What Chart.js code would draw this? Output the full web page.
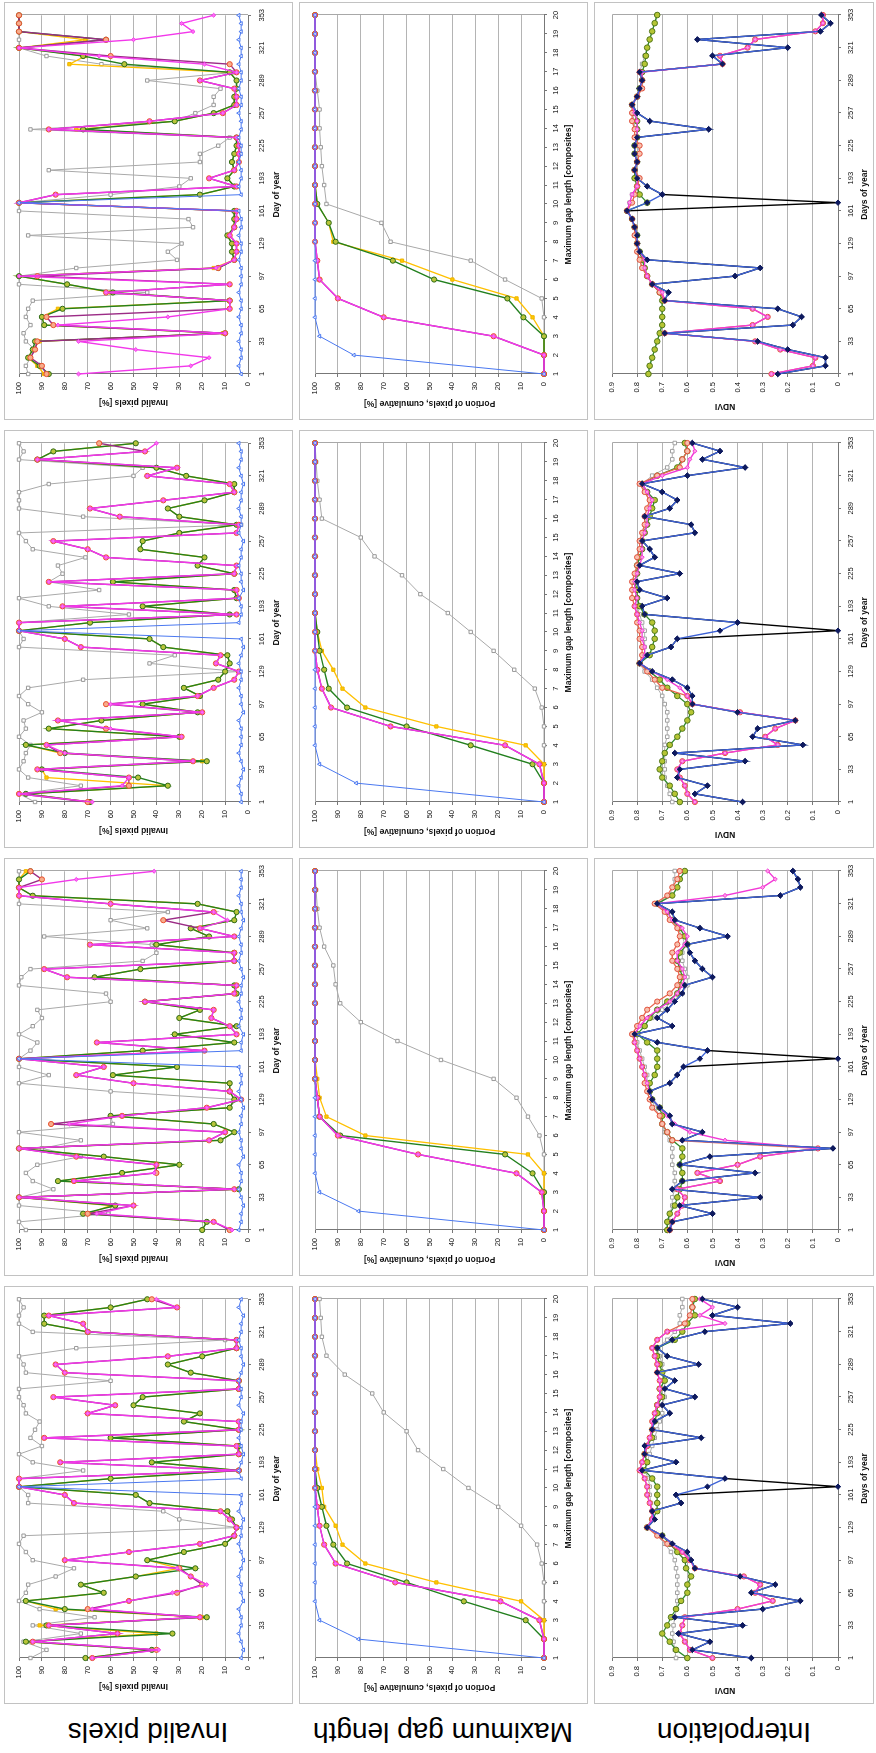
<!DOCTYPE html>
<html>
<head>
<meta charset="utf-8">
<script src="https://cdn.jsdelivr.net/npm/chart.js"></script>
<style>
html, body { margin:0; padding:0; background:#fff; width:876px; height:1753px; overflow:hidden; }
#fig { position:absolute; left:0; top:0; width:1753px; height:876px; background:#fff;
       transform-origin:0 0; transform:translate(0,1753px) rotate(-90deg); }
.panel { position:absolute; box-sizing:border-box; border:1px solid #c2c2c2; background:#fff; }
.panel canvas { position:absolute; left:0; top:0; }
.rowlab { position:absolute; font:28px "Liberation Sans", Arial, sans-serif; color:#000;
          white-space:nowrap; transform:translate(-50%,-50%) rotate(-90deg); }
</style>
</head>
<body>
<div id="fig"></div>
<script>
// x values
const days = [1,9,17,25,33,41,49,57,65,73,81,89,97,105,113,121,129,137,145,153,161,169,177,185,193,201,209,217,225,233,241,249,257,265,273,281,289,297,305,313,321,329,337,345,353];
const gapLen = [1,2,3,4,5,6,7,8,9,10,11,12,13,14,15,16,17,18,19,20];

// tick labels
const dayTicks = [1,33,65,97,129,161,193,225,257,289,321,353];
const gapTicks = [1,2,3,4,5,6,7,8,9,10,11,12,13,14,15,16,17,18,19,20];
const pctTicks = [0,10,20,30,40,50,60,70,80,90,100];
const ndviTicks = [0,0.1,0.2,0.3,0.4,0.5,0.6,0.7,0.8,0.9];

const rowNames = ['Invalid pixels', 'Maximum gap length', 'Interpolation'];

// ---- invalid pixels [%], sites A..D (left to right) ----
const invA_gray   = [95,88,98,73,94,67,91,100,97,96,84,76,94,97,100,98,5,30,37,96,96,100,100,72,94,100,90,95,93,91,97,98,100,100,60,97,98,100,75,10,94,100,100,98,100];
const invA_yellow = [71,42,97,40,91,20,84,97,63,73,49,30,44,28,10,6,5,7,9,43,49,100,60,4,42,4,4,60,4,28,21,50,46,4,4,25,35,20,5,5,70,89,89,60,44];
const invA_green  = [71,42,97,33,88,18,80,97,63,73,49,23,44,28,10,6,5,7,9,43,49,100,60,4,42,4,4,60,4,28,21,50,46,4,4,25,35,20,5,5,70,89,89,60,44];
const invA_red    = [68,40,94,57,87,21,70,52,31,20,25,30,80,52,21,6,5,8,12,76,80,100,100,4,82,4,5,89,4,4,70,58,85,4,4,80,84,35,5,5,70,72,87,31,42];
const invA_mag    = [68,39,94,57,87,21,68,52,33,18,25,31,80,52,21,6,5,8,12,76,80,100,100,4,82,4,5,89,4,4,70,58,85,4,4,80,84,35,5,5,70,72,87,31,40];
const invA_blue   = [3,2,3,4,3,3,4,2,3,3,4,3,2,3,4,3,3,2,4,3,3,100,3,4,3,2,3,4,3,3,2,4,3,3,4,3,2,3,3,4,3,3,2,4,3];

const invB_gray   = [97,100,61,100,100,85,94,97,92,73,90,73,100,59,60,8,5,60,100,87,100,100,95,92,100,94,90,92,60,62,100,99,95,46,40,42,89,44,60,35,100,100,100,100,100];
const invB_yellow = [20,18,70,60,100,4,83,55,30,63,100,12,6,15,60,8,6,8,8,59,31,100,46,6,32,5,30,21,45,5,6,67,47,6,6,40,17,25,6,5,22,94,100,100,97];
const invB_green  = [20,18,72,58,100,4,83,55,30,63,100,12,6,15,60,8,6,8,8,59,31,100,46,6,32,5,30,21,45,5,6,67,47,6,6,40,17,25,6,5,22,94,100,100,95];
const invB_red    = [8,15,70,50,100,6,76,40,40,75,100,17,10,86,55,18,3,8,50,75,63,100,19,66,5,8,16,15,45,6,5,79,89,6,6,69,6,21,37,15,60,100,100,90,95];
const invB_mag    = [7,15,66,50,100,6,76,41,40,75,100,17,10,78,55,18,3,8,50,75,63,100,19,66,5,8,16,15,45,6,5,79,89,6,6,69,6,21,9,15,60,100,100,75,41];
const invB_blue   = [4,3,3,2,3,4,3,3,4,2,3,3,4,3,3,2,3,4,3,3,4,100,3,3,2,4,3,3,4,3,3,2,3,4,3,3,4,3,2,3,3,4,3,3,3];

const invC_gray   = [93,100,73,96,100,98,97,95,100,97,98,90,96,100,96,72,4,43,32,100,98,100,100,52,87,100,65,87,81,83,71,94,97,100,3,72,100,100,100,87,50,46,100,98,100];
const invC_yellow = [69,97,35,88,90,20,82,97,30,87,64,22,46,21,28,13,10,8,9,37,43,100,69,8,46,5,6,59,6,22,19,47,46,30,5,30,35,19,6,6,27,40,92,85,49];
const invC_green  = [69,97,35,48,90,18,80,97,30,87,64,22,46,21,28,13,10,8,9,37,43,100,69,8,46,5,6,59,6,22,19,47,46,30,5,30,35,19,6,6,27,40,92,85,49];
const invC_red    = [70,100,52,52,92,24,82,88,29,62,83,20,62,22,15,6,4,14,12,73,80,100,100,5,81,4,5,87,6,5,62,70,85,5,4,56,69,37,6,8,44,31,92,45,65];
const invC_mag    = [68,100,55,52,92,24,80,88,29,60,83,20,60,22,15,6,4,14,12,73,80,100,100,5,81,4,5,87,6,5,62,70,85,5,4,56,69,37,6,8,44,31,92,45,40];
const invC_blue   = [3,3,4,3,2,3,4,3,3,3,4,2,3,3,4,3,3,4,3,2,3,100,4,3,3,4,2,3,3,4,3,3,2,4,3,3,4,3,3,2,3,4,3,3,4];

const invD_gray   = [96,97,95,93,97,98,95,97,96,94,44,100,100,75,31,35,29,96,24,26,100,100,60,30,25,87,21,21,13,8,95,32,23,15,15,12,44,6,64,88,100,100,100,100,100];
const invD_yellow = [89,92,96,94,91,11,89,90,83,8,60,79,100,15,6,7,7,9,6,6,6,100,21,6,9,6,7,6,5,5,75,32,15,6,6,5,5,8,78,71,100,71,100,100,100];
const invD_green  = [87,91,96,94,93,10,89,90,81,8,59,79,100,13,6,7,7,9,6,6,6,100,21,6,9,6,7,6,5,5,72,32,15,6,6,5,5,8,54,72,100,62,100,100,100];
const invD_red    = [88,90,95,93,92,10,85,88,8,8,62,8,92,13,6,5,5,8,6,5,5,100,84,5,17,6,4,4,4,5,87,43,11,5,5,6,21,5,8,60,100,62,100,100,100];
const invD_mag    = [74,25,17,49,74,10,83,35,8,8,62,8,100,14,6,5,5,8,6,5,5,100,84,5,17,6,4,4,4,5,87,43,11,5,5,6,21,5,19,65,100,50,24,29,15];
const invD_blue   = [3,4,3,3,4,3,3,4,3,3,4,3,3,3,4,3,3,4,3,3,4,100,3,4,3,3,4,3,3,4,3,3,4,3,3,4,3,3,4,3,3,4,3,3,4];

// ---- maximum gap length, cumulative portion [%] ----
const gapA_gray   = [0,0,0,0,0,1,3,10,20,33,44,55,60,70,75,87,95,97,97.5,98];
const gapA_yellow = [0,0,0,10,47,78,88,91,96,97,99,100,100,100,100,100,100,100,100,100];
const gapA_green  = [0,0,8,35,60,86,92,95,97,99,100,100,100,100,100,100,100,100,100,100];
const gapA_red    = [0,0,2,19,65,91,96,98,99,100,100,100,100,100,100,100,100,100,100,100];
const gapA_mag    = [0,0,2,19,65,91,96,98,99,100,100,100,100,100,100,100,100,100,100,100];
const gapA_blue   = [0,81,98,100,100,100,100,100,100,100,100,100,100,100,100,100,100,100,100,100];

const gapB_gray   = [0,0,0,0,0,2,7,12,22,45,64,80,89,91,92,96,98,99,99.5,100];
const gapB_yellow = [0,0,0,0,7,78,95,98,99,100,100,100,100,100,100,100,100,100,100,100];
const gapB_green  = [0,0,0,5,17,89,98,99,100,100,100,100,100,100,100,100,100,100,100,100];
const gapB_red    = [0,0,1,12,55,90,98,99,100,100,100,100,100,100,100,100,100,100,100,100];
const gapB_mag    = [0,0,1,12,55,90,98,99,100,100,100,100,100,100,100,100,100,100,100,100];
const gapB_blue   = [0,81,98,100,100,100,100,100,100,100,100,100,100,100,100,100,100,100,100,100];

const gapC_gray   = [0,0,0,0,0,1,4,13,22,32,42,54,62,74,80,97,98,99,99.5,100];
const gapC_yellow = [0,0,0,8,47,78,88,92,97,99,100,100,100,100,100,100,100,100,100,100];
const gapC_green  = [0,0,5,32,60,86,94,96,98,99,100,100,100,100,100,100,100,100,100,100];
const gapC_red    = [0,0,2,17,67,93,97,99,100,100,100,100,100,100,100,100,100,100,100,100];
const gapC_mag    = [0,0,2,17,67,93,97,99,100,100,100,100,100,100,100,100,100,100,100,100];
const gapC_blue   = [0,82,98,100,100,100,100,100,100,100,100,100,100,100,100,100,100,100,100,100];

const gapD_gray   = [0,0,0,0,1,17,32,67,71,95,96,97,97.5,98,98,99,100,100,100,100];
const gapD_yellow = [0,0,0,5,12,40,62,92,94,99,100,100,100,100,100,100,100,100,100,100];
const gapD_green  = [0,0,0,9,16,48,66,91,94,99,100,100,100,100,100,100,100,100,100,100];
const gapD_red    = [0,0,22,70,90,98,99,100,100,100,100,100,100,100,100,100,100,100,100,100];
const gapD_mag    = [0,0,22,70,90,98,99,100,100,100,100,100,100,100,100,100,100,100,100,100];
const gapD_blue   = [0,83,98,100,100,100,100,100,100,100,100,100,100,100,100,100,100,100,100,100];

// ---- interpolation, NDVI ----
const ndviA_gray  = [.645,.65,.655,.66,.655,.65,.645,.64,.64,.64,.64,.645,.65,.665,.69,.72,.76,.74,.74,.745,.75,.75,.755,.77,.76,.75,.74,.73,.72,.71,.70,.70,.69,.69,.69,.70,.70,.71,.72,.68,.65,.63,.63,.62,.62];
const ndviA_green = [.60,.645,.67,.70,.68,.665,.645,.625,.60,.60,.585,.605,.61,.64,.67,.70,.76,.74,.72,.72,.72,.72,.74,.77,.76,.77,.76,.74,.74,.73,.72,.72,.70,.71,.69,.70,.71,.72,.72,.65,.62,.60,.57,.58,.57];
const ndviA_red   = [.50,.59,.61,.63,.62,.61,.40,.26,.33,.31,.375,.57,.59,.62,.68,.72,.76,.74,.74,.75,.76,.76,.77,.79,.78,.77,.76,.75,.74,.74,.73,.72,.71,.71,.71,.72,.72,.73,.74,.72,.68,.61,.59,.58,.58];
const ndviA_mag   = [.50,.59,.61,.63,.62,.61,.40,.26,.33,.31,.375,.57,.59,.62,.66,.70,.76,.74,.74,.75,.76,.76,.77,.79,.78,.77,.76,.75,.74,.74,.73,.72,.71,.71,.71,.72,.72,.73,.74,.72,.68,.45,.55,.50,.55];
const ndviA_blue  = [.345,.58,.51,.635,.38,.65,.30,.15,.345,.25,.39,.57,.585,.60,.66,.70,.76,.73,.74,.625,.645,.52,.45,.78,.645,.77,.77,.545,.74,.73,.67,.70,.57,.69,.65,.72,.555,.68,.72,.66,.53,.19,.50,.40,.54];
const ndviA_black = [.345,.58,.51,.635,.38,.65,.30,.15,.345,.25,.39,.57,.585,.60,.66,.70,.76,.73,.74,.625,.645,0,.45,.78,.645,.77,.77,.545,.74,.73,.67,.70,.57,.69,.65,.72,.555,.68,.72,.66,.53,.19,.50,.40,.54];

const ndviB_gray  = [.67,.67,.67,.66,.66,.65,.65,.65,.66,.66,.66,.67,.69,.70,.71,.73,.74,.75,.76,.76,.77,.78,.79,.80,.82,.78,.74,.70,.66,.62,.60,.60,.61,.62,.62,.61,.62,.64,.66,.68,.72,.67,.66,.65,.65];
const ndviB_green = [.68,.68,.67,.65,.64,.63,.62,.62,.63,.62,.62,.66,.68,.70,.70,.71,.74,.75,.75,.73,.72,.72,.72,.76,.80,.77,.75,.72,.68,.64,.63,.62,.63,.64,.63,.60,.61,.63,.66,.68,.72,.66,.64,.63,.61];
const ndviB_red   = [.67,.66,.64,.62,.61,.64,.47,.56,.40,.31,.08,.66,.68,.70,.71,.74,.75,.76,.77,.77,.78,.79,.80,.81,.82,.80,.78,.76,.72,.67,.64,.63,.64,.66,.66,.64,.63,.64,.67,.69,.73,.68,.66,.64,.63];
const ndviB_mag   = [.67,.66,.64,.62,.61,.64,.47,.56,.40,.31,.08,.45,.59,.65,.68,.71,.74,.75,.76,.77,.78,.79,.80,.81,.81,.79,.76,.72,.67,.64,.62,.61,.62,.64,.64,.61,.60,.62,.66,.68,.72,.45,.30,.25,.28];
const ndviB_blue  = [.67,.66,.50,.63,.31,.66,.62,.33,.63,.51,.02,.62,.54,.66,.67,.71,.74,.75,.67,.64,.615,.55,.52,.72,.81,.66,.72,.68,.65,.62,.61,.50,.54,.57,.59,.60,.44,.55,.65,.66,.72,.23,.15,.16,.18];
const ndviB_black = [.67,.66,.50,.63,.31,.66,.62,.33,.63,.51,.02,.62,.54,.66,.67,.71,.74,.75,.67,.64,.615,0,.52,.72,.81,.66,.72,.68,.65,.62,.61,.50,.54,.57,.59,.60,.44,.55,.65,.66,.72,.23,.15,.16,.18];

const ndviC_gray  = [.66,.67,.68,.69,.69,.69,.69,.69,.68,.68,.68,.68,.69,.70,.72,.74,.77,.79,.77,.77,.77,.77,.78,.79,.80,.80,.81,.81,.80,.80,.79,.78,.78,.77,.77,.76,.75,.75,.77,.78,.74,.68,.66,.66,.65];
const ndviC_green = [.63,.65,.67,.70,.71,.70,.69,.67,.64,.62,.60,.585,.60,.64,.68,.71,.75,.79,.75,.74,.73,.73,.74,.77,.79,.80,.80,.81,.80,.80,.79,.78,.78,.77,.76,.75,.74,.73,.76,.78,.72,.64,.62,.60,.61];
const ndviC_red   = [.57,.60,.61,.63,.64,.62,.45,.24,.29,.25,.17,.39,.58,.60,.70,.73,.76,.79,.78,.78,.79,.79,.80,.80,.81,.82,.82,.82,.81,.80,.80,.79,.79,.78,.77,.77,.76,.75,.77,.79,.72,.63,.62,.60,.60];
const ndviC_mag   = [.57,.60,.61,.63,.64,.62,.45,.24,.29,.25,.17,.39,.58,.60,.63,.68,.74,.79,.77,.77,.78,.78,.79,.80,.81,.80,.81,.81,.80,.79,.78,.78,.78,.77,.76,.76,.75,.74,.76,.78,.70,.60,.59,.57,.58];
const ndviC_blue  = [.38,.57,.52,.64,.63,.37,.65,.14,.34,.32,.17,.40,.58,.58,.60,.66,.74,.79,.76,.665,.64,.47,.40,.77,.78,.68,.79,.80,.63,.79,.73,.75,.78,.57,.585,.77,.67,.64,.70,.78,.60,.37,.54,.47,.58];
const ndviC_black = [.38,.57,.52,.64,.63,.37,.65,.14,.34,.32,.17,.40,.58,.58,.60,.66,.74,.79,.76,.665,.64,0,.40,.77,.78,.68,.79,.80,.63,.79,.73,.75,.78,.57,.585,.77,.67,.64,.70,.78,.60,.37,.54,.47,.58];

const ndviD_gray  = [.755,.75,.74,.73,.72,.71,.70,.70,.70,.70,.71,.74,.76,.78,.79,.80,.80,.81,.81,.82,.84,.83,.82,.80,.79,.81,.80,.80,.79,.81,.81,.81,.82,.82,.80,.78,.78,.79,.78,.77,.76,.75,.74,.73,.72];
const ndviD_green = [.755,.75,.74,.73,.72,.71,.70,.70,.70,.70,.71,.74,.76,.77,.78,.79,.80,.80,.81,.82,.84,.76,.79,.80,.81,.81,.80,.81,.81,.80,.80,.80,.81,.82,.80,.79,.78,.78,.77,.765,.76,.75,.74,.73,.72];
const ndviD_red   = [.265,.10,.09,.23,.33,.69,.34,.28,.34,.69,.71,.74,.76,.78,.79,.80,.80,.81,.81,.82,.84,.82,.81,.80,.79,.81,.80,.79,.79,.81,.81,.82,.82,.82,.80,.78,.78,.79,.46,.47,.36,.33,.09,.06,.06];
const ndviD_mag   = [.265,.10,.09,.23,.33,.69,.34,.28,.34,.69,.70,.74,.76,.77,.77,.79,.80,.80,.81,.82,.84,.83,.82,.80,.80,.81,.80,.81,.81,.80,.80,.80,.81,.82,.80,.79,.78,.78,.46,.47,.36,.33,.09,.06,.06];
const ndviD_blue  = [.24,.05,.05,.20,.32,.69,.18,.145,.24,.69,.675,.74,.41,.31,.76,.79,.80,.80,.81,.82,.84,.76,.70,.76,.80,.81,.80,.81,.81,.80,.515,.75,.80,.82,.80,.79,.78,.79,.46,.50,.20,.56,.07,.03,.066];
const ndviD_black = [.24,.05,.05,.20,.32,.69,.18,.145,.24,.69,.675,.74,.41,.31,.76,.79,.80,.80,.81,.82,.84,0,.70,.76,.80,.81,.80,.81,.81,.80,.515,.75,.80,.82,.80,.79,.78,.79,.46,.50,.20,.56,.07,.03,.066];

// ---------------------------------------------------------------
const FONT = '"Liberation Sans", Arial, sans-serif';

// series looks (order 0 is drawn on top)
const ST = {
  gray:   {borderColor:'#a9a9a9', borderWidth:1,   pointStyle:'rect',     pointRadius:2.4, pointBackgroundColor:'#fff',    pointBorderColor:'#999',    order:5},
  yellow: {borderColor:'#ffc000', borderWidth:1.3, pointStyle:'rect',     pointRadius:2.3, pointBackgroundColor:'#ffcc00', pointBorderColor:'#efb300', order:4},
  green:  {borderColor:'#23801f', borderWidth:1.4, pointStyle:'circle',   pointRadius:2.6, pointBackgroundColor:'#b9c53a', pointBorderColor:'#2e6b18', order:3},
  red:    {borderColor:'#9b2c86', borderWidth:1.4, pointStyle:'circle',   pointRadius:2.6, pointBackgroundColor:'#f7ad8c', pointBorderColor:'#e8502e', order:2},
  mag:    {borderColor:'#f238ea', borderWidth:1.4, pointStyle:'rectRot',  pointRadius:2,   pointBackgroundColor:'#ff70f5', pointBorderColor:'#f238ea', order:1},
  blue:   {borderColor:'#4a78f0', borderWidth:1,   pointStyle:'triangle', pointRadius:2.2, pointBackgroundColor:'#fff',    pointBorderColor:'#4a78f0', order:0}
};
const STN = {
  gray:   {borderColor:'#b0b0b0', borderWidth:1,   pointStyle:'rect',    pointRadius:2.5, pointBackgroundColor:'#fff',    pointBorderColor:'#a0a0a0', order:4},
  green:  {borderColor:'#2f8a2a', borderWidth:1.3, pointStyle:'circle',  pointRadius:2.8, pointBackgroundColor:'#b5c534', pointBorderColor:'#54781c', order:3},
  red:    {borderColor:'#e8664f', borderWidth:1.3, pointStyle:'circle',  pointRadius:2.6, pointBackgroundColor:'#f8c0ad', pointBorderColor:'#e0503c', order:2},
  mag:    {borderColor:'#f23ad6', borderWidth:1.4, pointStyle:'rectRot', pointRadius:2.1, pointBackgroundColor:'#ff9be6', pointBorderColor:'#f23ad6', order:1},
  blue:   {borderColor:'#3d62d6', borderWidth:1.4, pointStyle:'rectRot', pointRadius:2.7, pointBackgroundColor:'#0e1a5e', pointBorderColor:'#0e1a5e', order:0},
  black:  {borderColor:'#000',    borderWidth:1.4, pointStyle:'rectRot', pointRadius:2.7, pointBackgroundColor:'#0e1a5e', pointBorderColor:'#0e1a5e', order:6}
};

// panel geometry (landscape figure, rotated afterwards)
const colX = [49, 477, 905, 1333];
const rows = [
  {top:4,   h:289, pt:15, pb:45, tp:6, xtb:10, ytp:12},
  {top:299, h:289, pt:16, pb:44, tp:4, xtb:13, ytp:11},
  {top:594, h:280, pt:18, pb:36, tp:5, xtb:3,  ytp:8}
];
const PW = 418, PL = 46, PR = 13;

// light frame on top/right of the plot area
const frame = {
  id: 'frame',
  beforeDatasetsDraw(c) {
    const a = c.chartArea, x = c.ctx;
    x.save();
    x.strokeStyle = '#a8a8a8'; x.lineWidth = 1;
    x.beginPath();
    x.moveTo(Math.round(a.left), Math.round(a.top) + 0.5);
    x.lineTo(Math.round(a.right) + 0.5, Math.round(a.top) + 0.5);
    x.lineTo(Math.round(a.right) + 0.5, Math.round(a.bottom));
    x.stroke();
    x.restore();
  }
};

const fig = document.getElementById('fig');

function makePanel(col, row, xs, sets, cfg) {
  const g = rows[row];
  const box = document.createElement('div');
  box.className = 'panel';
  box.style.left = colX[col] + 'px';
  box.style.top = g.top + 'px';
  box.style.width = PW + 'px';
  box.style.height = g.h + 'px';
  fig.appendChild(box);
  const cv = document.createElement('canvas');
  cv.width = PW - 2; cv.height = g.h - 2;
  box.appendChild(cv);

  const datasets = sets.map(([vals, st]) => Object.assign({
    data: vals.map((v, i) => ({x: xs[i], y: v})),
    tension: 0, fill: false, clip: false, pointBorderWidth: 1
  }, st));

  new Chart(cv, {
    type: 'line',
    data: {datasets},
    plugins: [frame],
    options: {
      responsive: false, animation: false, devicePixelRatio: 1, events: [],
      layout: {padding: {left: 0, right: PR - 1, top: g.pt - 1, bottom: 0}},
      plugins: {legend: {display: false}, tooltip: {enabled: false}},
      scales: {
        x: {
          type: 'linear', min: cfg.xmin, max: cfg.xmax,
          afterBuildTicks: s => { s.ticks = cfg.xticks.map(v => ({value: v})); },
          afterFit: s => { s.height = g.pb - 1; },
          ticks: {font: {family: FONT, size: 7.5}, color: '#111', padding: g.tp, maxRotation: 0, autoSkip: false, callback: v => String(v)},
          grid: {drawOnChartArea: false, drawTicks: true, tickLength: 3, tickColor: '#777'},
          border: {color: '#777', width: 1},
          title: {display: true, text: cfg.xtitle, color: '#111', font: {family: FONT, size: 8.5, weight: 'bold'}, padding: {top: 0, bottom: g.xtb}}
        },
        y: {
          type: 'linear', min: 0, max: cfg.ymax,
          afterBuildTicks: s => { s.ticks = cfg.yticks.map(v => ({value: v})); },
          afterFit: s => { s.width = PL - 1; },
          ticks: {font: {family: FONT, size: 7.5}, color: '#111', padding: 5, callback: v => String(v)},
          grid: {color: '#b4b4b4', lineWidth: 1, tickLength: 3, tickColor: '#777'},
          border: {color: '#777', width: 1},
          title: {display: true, text: cfg.ytitle, color: '#111', font: {family: FONT, size: 8.5, weight: 'bold'}, padding: {top: g.ytp, bottom: 0}}
        }
      }
    }
  });
}

const invCfg  = {xmin: 1, xmax: 353, xticks: dayTicks, ymax: 100, yticks: pctTicks, xtitle: 'Day of year', ytitle: 'Invalid pixels [%]'};
const gapCfg  = {xmin: 1, xmax: 20, xticks: gapTicks, ymax: 100, yticks: pctTicks, xtitle: 'Maximum gap length [composites]', ytitle: 'Portion of pixels, cumulative [%]'};
const ndviCfg = {xmin: 1, xmax: 353, xticks: dayTicks, ymax: 0.9, yticks: ndviTicks, xtitle: 'Days of year', ytitle: 'NDVI'};

const inv = [
  [invA_gray, invA_yellow, invA_green, invA_red, invA_mag, invA_blue],
  [invB_gray, invB_yellow, invB_green, invB_red, invB_mag, invB_blue],
  [invC_gray, invC_yellow, invC_green, invC_red, invC_mag, invC_blue],
  [invD_gray, invD_yellow, invD_green, invD_red, invD_mag, invD_blue]
];
const gap = [
  [gapA_gray, gapA_yellow, gapA_green, gapA_red, gapA_mag, gapA_blue],
  [gapB_gray, gapB_yellow, gapB_green, gapB_red, gapB_mag, gapB_blue],
  [gapC_gray, gapC_yellow, gapC_green, gapC_red, gapC_mag, gapC_blue],
  [gapD_gray, gapD_yellow, gapD_green, gapD_red, gapD_mag, gapD_blue]
];
const ndvi = [
  [ndviA_gray, ndviA_green, ndviA_red, ndviA_mag, ndviA_blue, ndviA_black],
  [ndviB_gray, ndviB_green, ndviB_red, ndviB_mag, ndviB_blue, ndviB_black],
  [ndviC_gray, ndviC_green, ndviC_red, ndviC_mag, ndviC_blue, ndviC_black],
  [ndviD_gray, ndviD_green, ndviD_red, ndviD_mag, ndviD_blue, ndviD_black]
];
const keys6 = ['gray', 'yellow', 'green', 'red', 'mag', 'blue'];
const keysN = ['gray', 'green', 'red', 'mag', 'blue', 'black'];

for (let c = 0; c < 4; c++) {
  makePanel(c, 0, days,   inv[c].map((v, k) => [v, ST[keys6[k]]]), invCfg);
  makePanel(c, 1, gapLen, gap[c].map((v, k) => [v, ST[keys6[k]]]), gapCfg);
  makePanel(c, 2, days,   ndvi[c].map((v, k) => [v, STN[keysN[k]]]), ndviCfg);
}

// row labels on the left side
const rowMid = [148, 443, 734];
rowNames.forEach((t, r) => {
  const d = document.createElement('div');
  d.className = 'rowlab';
  d.textContent = t;
  d.style.left = '21px';
  d.style.top = rowMid[r] + 'px';
  fig.appendChild(d);
});
</script>
</body>
</html>
